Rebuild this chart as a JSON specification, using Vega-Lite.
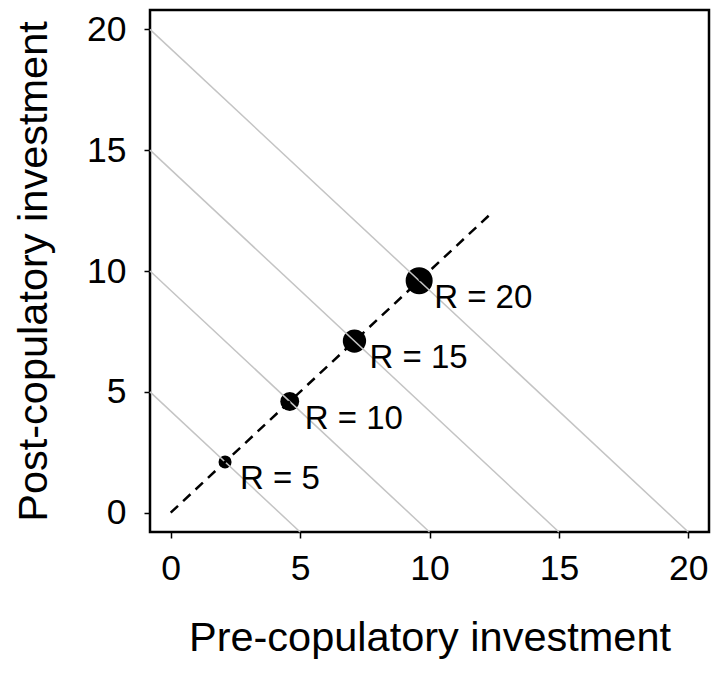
{
  "$schema": "https://vega.github.io/schema/vega-lite/v6.json",
  "autosize": "none",
  "width": 559,
  "height": 522,
  "padding": {"left": 150, "top": 10, "right": 5, "bottom": 143},
  "background": "white",
  "config": {
    "font": "Liberation Sans",
    "view": {"stroke": "black", "strokeWidth": 2.5},
    "axis": {
      "domain": false,
      "grid": false,
      "ticks": true,
      "tickSize": 6,
      "tickColor": "black",
      "tickWidth": 1.5,
      "labelColor": "black",
      "labelFontSize": 35.5,
      "titleFontSize": 41.5,
      "titleFontWeight": "normal",
      "titleColor": "black",
      "labelFont": "Liberation Sans",
      "titleFont": "Liberation Sans"
    }
  },
  "datasets": {
    "iso": [
      {"c": 5, "x": -0.8, "y": 5}, {"c": 5, "x": 5, "y": -0.8},
      {"c": 10, "x": -0.8, "y": 10}, {"c": 10, "x": 10, "y": -0.8},
      {"c": 15, "x": -0.8, "y": 15}, {"c": 15, "x": 15, "y": -0.8},
      {"c": 20, "x": -0.8, "y": 20}, {"c": 20, "x": 20, "y": -0.8}
    ],
    "diag": [{"x": 0, "y": 0}, {"x": 12.3, "y": 12.3}],
    "pts": [
      {"R": 5, "x": 2.1, "y": 2.1, "label": "R = 5"},
      {"R": 10, "x": 4.6, "y": 4.6, "label": "R = 10"},
      {"R": 15, "x": 7.1, "y": 7.1, "label": "R = 15"},
      {"R": 20, "x": 9.6, "y": 9.6, "label": "R = 20"}
    ]
  },
  "encoding": {
    "x": {
      "field": "x", "type": "quantitative",
      "scale": {"domain": [-0.8, 20.8], "nice": false, "zero": false},
      "axis": {"values": [0, 5, 10, 15, 20], "title": "Pre-copulatory investment", "labelPadding": 13, "titlePadding": 31}
    },
    "y": {
      "field": "y", "type": "quantitative",
      "scale": {"domain": [-0.8, 20.8], "nice": false, "zero": false},
      "axis": {"values": [0, 5, 10, 15, 20], "title": "Post-copulatory investment", "labelPadding": 18, "titlePadding": 31}
    }
  },
  "layer": [
    {
      "data": {"name": "pts"},
      "mark": {"type": "circle", "color": "black", "opacity": 1},
      "encoding": {
        "size": {"field": "R", "type": "quantitative", "scale": {"domain": [5, 20], "range": [170, 730], "zero": false}, "legend": null}
      }
    },
    {
      "data": {"name": "iso"},
      "mark": {"type": "line", "color": "#c4c4c4", "strokeWidth": 1.5},
      "encoding": {"detail": {"field": "c", "type": "nominal"}}
    },
    {
      "data": {"name": "diag"},
      "mark": {"type": "line", "color": "black", "strokeWidth": 2.5, "strokeDash": [10, 7]},
      "encoding": {}
    },
    {
      "data": {"name": "pts"},
      "mark": {"type": "text", "align": "left", "baseline": "top", "dx": 15, "dy": 1, "fontSize": 33, "color": "black"},
      "encoding": {"text": {"field": "label"}}
    }
  ]
}
